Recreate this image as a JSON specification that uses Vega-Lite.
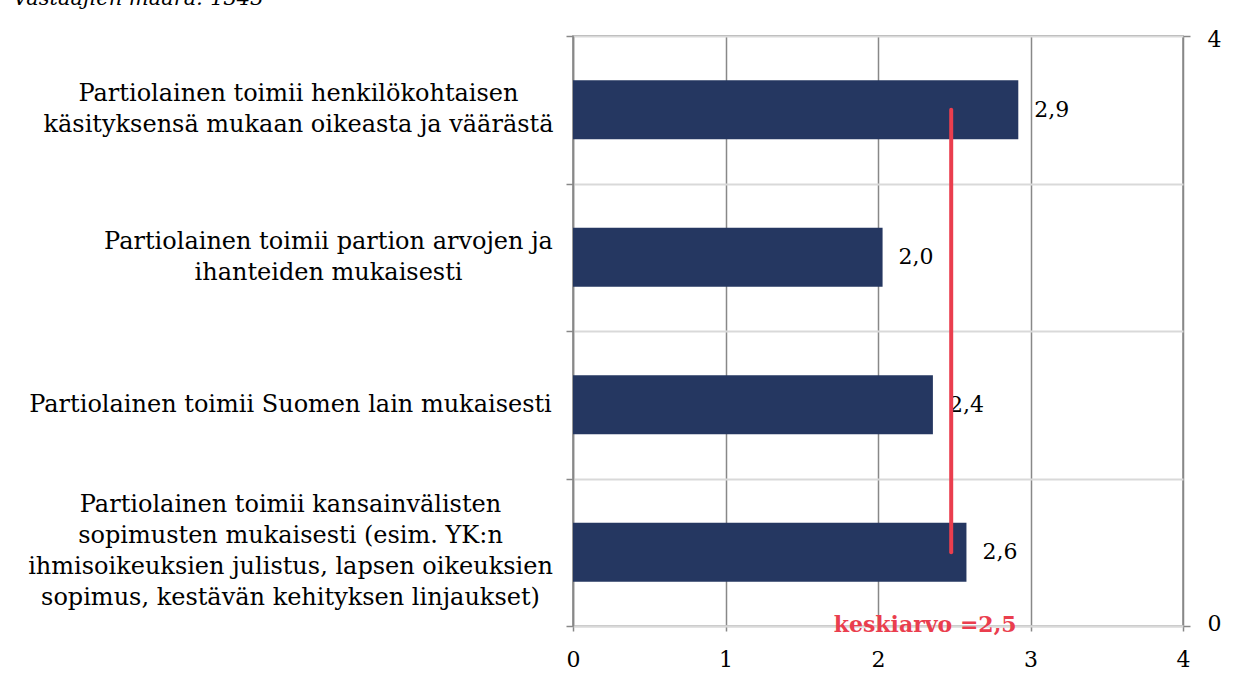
{
  "$schema": "https://vega.github.io/schema/vega-lite/v6.json",
  "width": 610,
  "height": 590,
  "autosize": {"type": "none"},
  "padding": {"left": 573, "top": 36, "right": 54, "bottom": 58},
  "background": "white",
  "config": {
    "locale": {"number": {"decimal": ",", "thousands": " ", "grouping": [3], "currency": ["", " €"]}},
    "view": {"stroke": "#888888", "strokeWidth": 1.5},
    "font": "DejaVu Serif"
  },
  "title": {
    "text": "Vastaajien määrä: 1343",
    "anchor": "start",
    "frame": "group",
    "fontSize": 21,
    "fontStyle": "italic",
    "fontWeight": "normal",
    "font": "DejaVu Serif",
    "color": "#000000",
    "baseline": "alphabetic",
    "offset": 0,
    "dy": 2,
    "dx": -560
  },
  "datasets": {
    "bars": [
      {"kohta": "Partiolainen toimii henkilökohtaisen|käsityksensä mukaan oikeasta ja väärästä", "arvo": 2.92},
      {"kohta": "Partiolainen toimii partion arvojen ja|ihanteiden mukaisesti", "arvo": 2.03},
      {"kohta": "Partiolainen toimii Suomen lain mukaisesti", "arvo": 2.36},
      {"kohta": "Partiolainen toimii kansainvälisten|sopimusten mukaisesti (esim. YK:n|ihmisoikeuksien julistus, lapsen oikeuksien|sopimus, kestävän kehityksen linjaukset)", "arvo": 2.58}
    ],
    "avg": [
      {"keskiarvo": 2.48, "alku": 0.5, "loppu": 3.5, "teksti": "keskiarvo =2,5"}
    ]
  },
  "layer": [
    {
      "data": {"name": "bars"},
      "encoding": {
        "y": {
          "field": "kohta",
          "type": "nominal",
          "sort": null,
          "scale": {"paddingInner": 0, "paddingOuter": 0},
          "axis": {
            "title": null,
            "tickBand": "extent",
            "grid": true,
            "gridColor": "#d9d9d9",
            "gridWidth": 2,
            "domainColor": "#888888",
            "domainWidth": 1.5,
            "tickColor": "#888888",
            "tickSize": 7,
            "tickWidth": 1.5,
            "labelFontSize": 24,
            "labelColor": "#000000",
            "labelAlign": "center",
            "labelBaseline": "middle",
            "labelLineHeight": 31,
            "labelLimit": 0,
            "labelExpr": "split(datum.label, '|')",
            "labelPadding": 276,
            "encoding": {
              "labels": {
                "dx": {
                  "condition": [
                    {"test": "indexof('' + datum.value, 'arvojen') >= 0", "value": 38},
                    {"test": "indexof('' + datum.value, 'henkilö') >= 0", "value": 8}
                  ],
                  "value": 0
                },
                "dy": {
                  "condition": [
                    {"test": "indexof('' + datum.value, 'kansainvälisten') >= 0", "value": -47.5},
                    {"test": "indexof('' + datum.value, '|') >= 0", "value": -16}
                  ],
                  "value": 0
                }
              }
            }
          }
        },
        "x": {
          "field": "arvo",
          "type": "quantitative",
          "scale": {"domain": [0, 4], "nice": false},
          "axis": {
            "title": null,
            "values": [0, 1, 2, 3, 4],
            "format": "d",
            "grid": true,
            "gridColor": "#888888",
            "gridWidth": 1.5,
            "domainColor": "#d9d9d9",
            "domainWidth": 2,
            "tickColor": "#888888",
            "tickSize": 5,
            "tickWidth": 1.5,
            "labelFontSize": 22,
            "labelColor": "#000000",
            "labelPadding": 18,
            "labelFlush": false
          }
        }
      },
      "layer": [
        {"mark": {"type": "bar", "color": "#253761", "height": {"band": 0.4}}},
        {
          "mark": {"type": "text", "align": "left", "baseline": "middle", "dx": 16, "fontSize": 22, "color": "#000000"},
          "encoding": {"text": {"field": "arvo", "type": "quantitative", "format": ".1f"}}
        }
      ]
    },
    {
      "data": {"name": "avg"},
      "encoding": {
        "x": {"field": "keskiarvo", "type": "quantitative", "scale": {"domain": [0, 4], "nice": false}}
      },
      "layer": [
        {
          "mark": {"type": "rule", "color": "#ea3e4e", "strokeWidth": 4, "strokeCap": "round"},
          "encoding": {
            "y": {
              "field": "alku",
              "type": "quantitative",
              "scale": {"domain": [0, 4], "nice": false},
              "axis": {
                "orient": "right",
                "title": null,
                "values": [0, 4],
                "format": "d",
                "grid": false,
                "domain": false,
                "tickColor": "#888888",
                "tickSize": 7,
                "tickWidth": 1.5,
                "labelFontSize": 22,
                "labelColor": "#000000",
                "labelPadding": 17,
                "labelFlush": false,
                "labelOffset": {"condition": {"test": "datum.value == 0", "value": -3}, "value": 3}
              }
            },
            "y2": {"field": "loppu"}
          }
        },
        {
          "mark": {"type": "text", "align": "center", "baseline": "alphabetic", "dx": -26, "dy": 6, "fontSize": 22, "fontWeight": "bold", "color": "#ea3e4e"},
          "encoding": {
            "y": {"datum": 0, "type": "quantitative"},
            "text": {"field": "teksti", "type": "nominal"}
          }
        }
      ]
    }
  ],
  "resolve": {"scale": {"y": "independent"}, "axis": {"y": "independent"}}
}
